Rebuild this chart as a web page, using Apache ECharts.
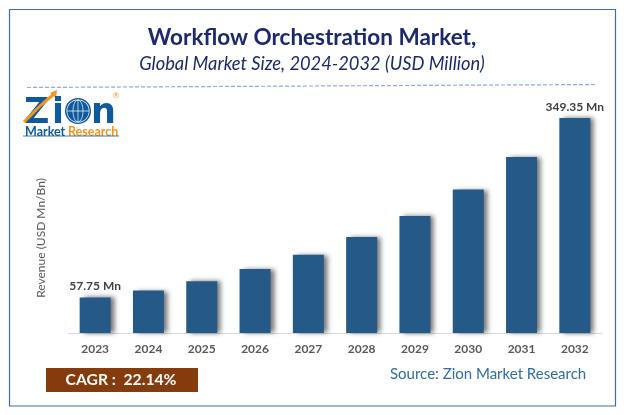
<!DOCTYPE html>
<html>
<head>
    <title>Workflow Orchestration Market</title>
    <meta charset="UTF-8">
    <script src="https://cdn.jsdelivr.net/npm/echarts@6/dist/echarts.min.js"></script>
    <style>
        html, body { margin: 0; padding: 0; background: #fff; }
        #chart { width: 624px; height: 415px; }
    </style>
</head>
<body>
    <div id="chart"></div>
    <script>
        var years = ['2023','2024','2025','2026','2027','2028','2029','2030','2031','2032'];
        var revenue = [57.75,69,84,104,127,156,190,233,286,349.35];
        var font = 'Lato';
        var logoFont = '"DejaVu Sans"';

        var chart = echarts.init(document.getElementById('chart'), null, { renderer: 'canvas' });
        chart.setOption({
            animation: false,
            backgroundColor: '#fff',
            title: [
                { text: 'Workflow Orchestration Market,', left: 'center', top: 21,
                  textStyle: { fontFamily: font, fontWeight: 'bold', fontSize: 22.5, color: '#1c2a6b' } },
                { text: 'Global Market Size, 2024-2032 (USD Million)', left: 'center', top: 50,
                  textStyle: { fontFamily: font, fontWeight: 'normal', fontStyle: 'italic', fontSize: 18.3, color: '#1c2a6b' } }
            ],
            grid: { left: 68.5, right: 22.5, top: 118, bottom: 82 },
            xAxis: {
                type: 'category',
                data: years,
                axisLine: { lineStyle: { color: '#d9d9d9', width: 1 } },
                axisTick: { show: false },
                axisLabel: { margin: 10, fontFamily: font, fontWeight: 'bold', fontSize: 12, color: '#595959' }
            },
            yAxis: {
                type: 'value',
                min: 0,
                max: 349.35,
                axisLine: { show: false },
                axisTick: { show: false },
                axisLabel: { show: false },
                splitLine: { show: false }
            },
            series: [{
                type: 'bar',
                data: revenue,
                barWidth: 31,
                itemStyle: {
                    color: '#255a88',
                    shadowColor: 'rgba(0,0,0,0.55)',
                    shadowBlur: 5,
                    shadowOffsetX: 4,
                    shadowOffsetY: 0
                },
                label: {
                    show: true,
                    position: 'top',
                    distance: 5,
                    fontFamily: font,
                    fontWeight: 'bold',
                    fontSize: 12,
                    color: '#404040',
                    formatter: function (p) {
                        // only first and last bars are labelled
                        if (p.dataIndex === 0 || p.dataIndex === years.length - 1) {
                            return p.value + ' Mn';
                        }
                        return '';
                    }
                }
            }],
            graphic: [
                // outer frame
                { type: 'rect', shape: { x: 9.5, y: 9.5, width: 606, height: 396.5 },
                  style: { fill: 'none', stroke: '#3f6f9f', lineWidth: 1.2 } },
                // dashed rule under the title
                { type: 'line', shape: { x1: 27, y1: 87.5, x2: 596, y2: 84.5 },
                  style: { stroke: '#8faadc', lineWidth: 1.2, lineDash: [4, 2] } },
                // y axis title
                { type: 'text', x: 41, y: 238, rotation: Math.PI / 2,
                  style: { text: 'Revenue (USD Mn/Bn)', align: 'center', verticalAlign: 'middle',
                           font: '12px ' + font, fill: '#595959' } },
                // logo
                { type: 'text', x: 24, y: 114,
                  style: { text: 'Z', verticalAlign: 'middle', font: 'bold 35px ' + logoFont, fill: '#0f5a9c' } },
                { type: 'polyline', shape: { points: [[24, 122], [41, 105], [54, 94]] },
                  style: { stroke: '#f7941d', lineWidth: 3, fill: 'none' } },
                { type: 'polygon', shape: { points: [[50, 93], [57, 90], [56, 98]] },
                  style: { fill: '#f7941d' } },
                { type: 'text', x: 52, y: 114,
                  style: { text: 'i', verticalAlign: 'middle', font: 'bold 35px ' + logoFont, fill: '#0f5a9c' } },
                { type: 'circle', shape: { cx: 78, cy: 111, r: 13 },
                  style: { fill: '#0f5a9c' } },
                { type: 'ring', shape: { cx: 78, cy: 111, r: 11.5, r0: 10.8 },
                  style: { fill: '#fff' } },
                { type: 'ellipse', shape: { cx: 78, cy: 111, rx: 5, ry: 11 },
                  style: { fill: 'none', stroke: '#fff', lineWidth: 0.7 } },
                { type: 'line', shape: { x1: 67, y1: 111, x2: 89, y2: 111 },
                  style: { stroke: '#fff', lineWidth: 0.7 } },
                { type: 'line', shape: { x1: 78, y1: 100, x2: 78, y2: 122 },
                  style: { stroke: '#fff', lineWidth: 0.7 } },
                { type: 'text', x: 91, y: 114,
                  style: { text: 'n', verticalAlign: 'middle', font: 'bold 35px ' + logoFont, fill: '#0f5a9c' } },
                { type: 'text', x: 116, y: 95,
                  style: { text: '®', align: 'center', verticalAlign: 'middle', font: '8px ' + font, fill: '#f7941d' } },
                { type: 'text', x: 25, y: 125,
                  style: { text: 'Market', font: 'bold 12.5px ' + font, fill: '#0f5a9c' } },
                { type: 'text', x: 68, y: 125,
                  style: { text: 'Research', font: 'bold 12.5px ' + font, fill: '#f7941d' } },
                { type: 'line', shape: { x1: 23, y1: 136, x2: 119, y2: 136 },
                  style: { stroke: '#0f5a9c', lineWidth: 0.8 } },
                // CAGR box
                { type: 'rect', shape: { x: 46, y: 368, width: 152, height: 24 },
                  style: { fill: '#843c0c' } },
                { type: 'text', x: 121, y: 380,
                  style: { text: 'CAGR :  22.14%', align: 'center', verticalAlign: 'middle',
                           font: 'bold 15.7px ' + font, fill: '#fff' } },
                // source
                { type: 'text', x: 390, y: 374,
                  style: { text: 'Source: Zion Market Research', verticalAlign: 'middle',
                           font: '15px ' + font, fill: '#2e6da4' } }
            ]
        });
    </script>
</body>
</html>
